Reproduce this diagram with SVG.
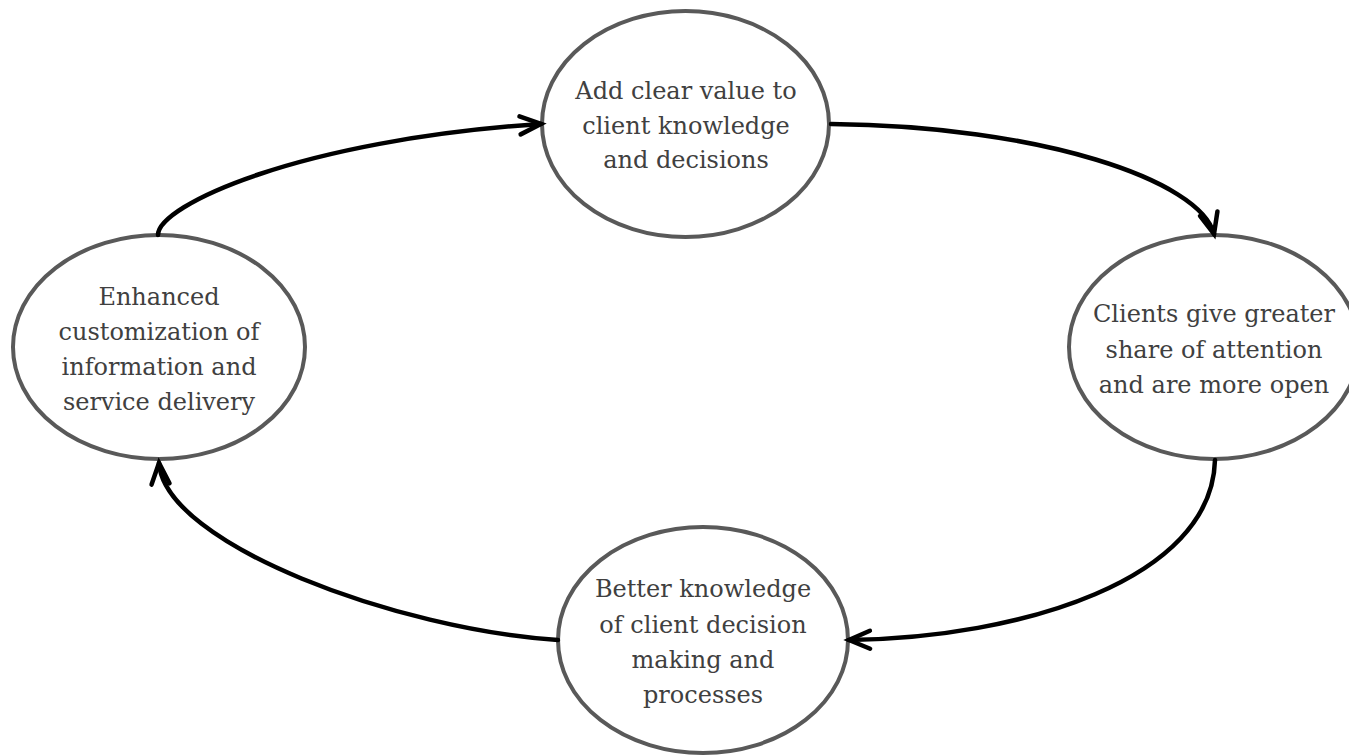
<svg xmlns="http://www.w3.org/2000/svg" width="1349" height="756" viewBox="0 0 1349 756">
<defs>
<style>
.node ellipse{fill:#ffffff;stroke:#595959;stroke-width:4}
.node text{font-family:"DejaVu Serif","Liberation Serif",serif;font-size:24px;fill:#404040;text-anchor:middle}
.conn path{fill:none;stroke:#000000;stroke-width:4.5;stroke-linecap:round}
</style>
<marker id="arr" markerUnits="userSpaceOnUse" orient="auto" markerWidth="40" markerHeight="40" refX="0" refY="0" viewBox="-30 -20 40 40" overflow="visible">
<path d="M-21,-9 L0,0 L-21,9" fill="none" stroke="#000" stroke-width="4.5" stroke-linecap="round" stroke-linejoin="miter"/>
</marker>
</defs>
<rect width="1349" height="756" fill="#ffffff"/>
<g id="n-top" class="node">
<ellipse cx="685.5" cy="124" rx="143.5" ry="113"/>
<text x="686" y="99">Add clear value to</text>
<text x="686" y="134">client knowledge</text>
<text x="686" y="168">and decisions</text>
</g>
<g id="n-right" class="node">
<ellipse cx="1214" cy="347" rx="145" ry="112"/>
<text x="1214" y="322">Clients give greater</text>
<text x="1214" y="358">share of attention</text>
<text x="1214" y="393">and are more open</text>
</g>
<g id="n-bottom" class="node">
<ellipse cx="703" cy="640" rx="145" ry="113"/>
<text x="703" y="597">Better knowledge</text>
<text x="703" y="633">of client decision</text>
<text x="703" y="668">making and</text>
<text x="703" y="703">processes</text>
</g>
<g id="n-left" class="node">
<ellipse cx="159" cy="347" rx="146" ry="112"/>
<text x="159" y="305">Enhanced</text>
<text x="159" y="340">customization of</text>
<text x="159" y="375">information and</text>
<text x="159" y="410">service delivery</text>
</g>
<g id="connectors" class="conn">
<path d="M158,235 C158,205 300,140 541,124" marker-end="url(#arr)"/>
<path d="M831,124 C1040,126 1200,180 1214,234" marker-end="url(#arr)"/>
<path d="M1215,460 C1212,580 1020,638 849,640" marker-end="url(#arr)"/>
<path d="M558,640 C400,630 165,545 159,463" marker-end="url(#arr)"/>
</g>
</svg>
